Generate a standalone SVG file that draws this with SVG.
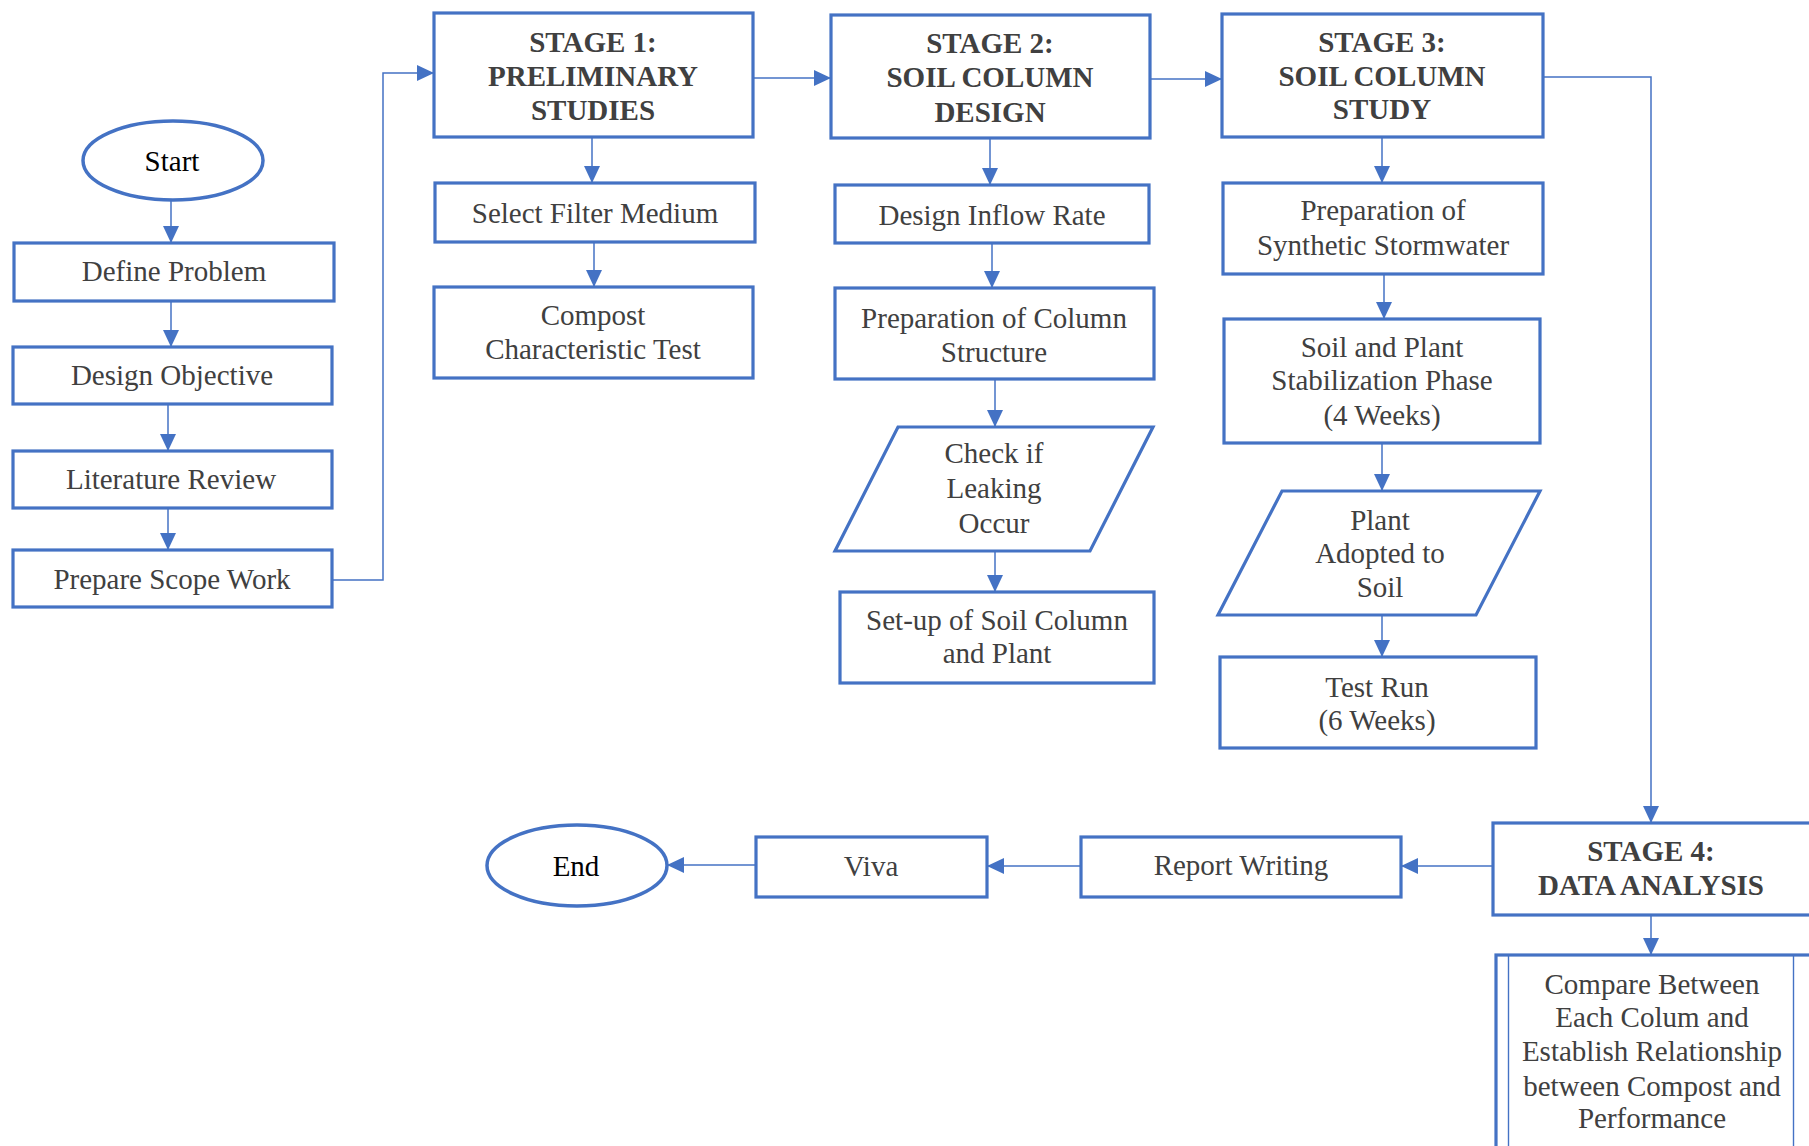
<svg xmlns="http://www.w3.org/2000/svg" width="1809" height="1146" viewBox="0 0 1809 1146">
<defs>
<marker id="arr" markerUnits="userSpaceOnUse" viewBox="0 0 18 18" markerWidth="18" markerHeight="18" refX="17" refY="9" orient="auto" overflow="visible">
<path d="M0,1 L17,9 L0,17 Z" fill="#4472C4"/>
</marker>
<style>
.box{fill:#fff;stroke:#4472C4;stroke-width:3.2}
.term{fill:#fff;stroke:#4472C4;stroke-width:3.5}
.thin{fill:none;stroke:#4472C4;stroke-width:1.4}
.con{fill:none;stroke:#4472C4;stroke-width:1.5}
.arr{marker-end:url(#arr)}
text{font-family:"Liberation Serif","Times New Roman",serif;font-size:29px;fill:#404040;text-anchor:middle}
.b{font-weight:bold}
.k{fill:#000}
</style>
</defs>
<rect width="1809" height="1146" fill="#fff"/>

<g id="connectors">
<line class="con arr" x1="171" y1="200" x2="171" y2="243"/>
<line class="con arr" x1="171" y1="301" x2="171" y2="347"/>
<line class="con arr" x1="168" y1="404" x2="168" y2="451"/>
<line class="con arr" x1="168" y1="508" x2="168" y2="550"/>
<polyline class="con arr" points="332,580 383,580 383,73 434,73"/>
<line class="con arr" x1="592" y1="137" x2="592" y2="183"/>
<line class="con arr" x1="594" y1="242" x2="594" y2="287"/>
<line class="con arr" x1="753" y1="78" x2="831" y2="78"/>
<line class="con arr" x1="990" y1="138" x2="990" y2="185"/>
<line class="con arr" x1="992" y1="243" x2="992" y2="288"/>
<line class="con arr" x1="995" y1="379" x2="995" y2="427"/>
<line class="con arr" x1="995" y1="551" x2="995" y2="592"/>
<line class="con arr" x1="1150" y1="79" x2="1222" y2="79"/>
<line class="con arr" x1="1382" y1="137" x2="1382" y2="183"/>
<line class="con arr" x1="1384" y1="274" x2="1384" y2="319"/>
<line class="con arr" x1="1382" y1="443" x2="1382" y2="491"/>
<line class="con arr" x1="1382" y1="615" x2="1382" y2="657"/>
<polyline class="con arr" points="1543,77 1651,77 1651,823"/>
<line class="con arr" x1="1651" y1="915" x2="1651" y2="955"/>
<line class="con arr" x1="1493" y1="866" x2="1401" y2="866"/>
<line class="con arr" x1="1081" y1="866" x2="987" y2="866"/>
<line class="con arr" x1="756" y1="865" x2="667" y2="865"/>
</g>

<g id="start">
<ellipse class="term" cx="173" cy="160.5" rx="90" ry="39.5"/>
<text class="k" x="172" y="171">Start</text>
</g>
<g id="define-problem">
<rect class="box" x="14" y="243" width="320" height="58"/>
<text x="174" y="281">Define Problem</text>
</g>
<g id="design-objective">
<rect class="box" x="13" y="347" width="319" height="57"/>
<text x="172" y="385">Design Objective</text>
</g>
<g id="literature-review">
<rect class="box" x="13" y="451" width="319" height="57"/>
<text x="171" y="489">Literature Review</text>
</g>
<g id="prepare-scope-work">
<rect class="box" x="13" y="550" width="319" height="57"/>
<text x="172" y="589">Prepare Scope Work</text>
</g>

<g id="stage1">
<rect class="box" x="434" y="13" width="319" height="124"/>
<text class="b" x="593" y="52">STAGE 1:</text>
<text class="b" x="593" y="86">PRELIMINARY</text>
<text class="b" x="593" y="120">STUDIES</text>
</g>
<g id="select-filter-medium">
<rect class="box" x="435" y="183" width="320" height="59"/>
<text x="595" y="223">Select Filter Medium</text>
</g>
<g id="compost-test">
<rect class="box" x="434" y="287" width="319" height="91"/>
<text x="593" y="325">Compost</text>
<text x="593" y="359">Characteristic Test</text>
</g>

<g id="stage2">
<rect class="box" x="831" y="15" width="319" height="123"/>
<text class="b" x="990" y="53">STAGE 2:</text>
<text class="b" x="990" y="87">SOIL COLUMN</text>
<text class="b" x="990" y="122">DESIGN</text>
</g>
<g id="design-inflow-rate">
<rect class="box" x="835" y="185" width="314" height="58"/>
<text x="992" y="225">Design Inflow Rate</text>
</g>
<g id="prep-column-structure">
<rect class="box" x="835" y="288" width="319" height="91"/>
<text x="994" y="328">Preparation of Column</text>
<text x="994" y="362">Structure</text>
</g>
<g id="check-leaking">
<polygon class="box" points="898,427 1153,427 1090,551 835,551"/>
<text x="994" y="463">Check if</text>
<text x="994" y="498">Leaking</text>
<text x="994" y="533">Occur</text>
</g>
<g id="setup-soil-column">
<rect class="box" x="840" y="592" width="314" height="91"/>
<text x="997" y="630">Set-up of Soil Column</text>
<text x="997" y="663">and Plant</text>
</g>

<g id="stage3">
<rect class="box" x="1222" y="14" width="321" height="123"/>
<text class="b" x="1382" y="52">STAGE 3:</text>
<text class="b" x="1382" y="86">SOIL COLUMN</text>
<text class="b" x="1382" y="119">STUDY</text>
</g>
<g id="prep-synthetic-stormwater">
<rect class="box" x="1223" y="183" width="320" height="91"/>
<text x="1383" y="220">Preparation of</text>
<text x="1383" y="255">Synthetic Stormwater</text>
</g>
<g id="soil-plant-stabilization">
<rect class="box" x="1224" y="319" width="316" height="124"/>
<text x="1382" y="357">Soil and Plant</text>
<text x="1382" y="390">Stabilization Phase</text>
<text x="1382" y="425">(4 Weeks)</text>
</g>
<g id="plant-adopted">
<polygon class="box" points="1282,491 1540,491 1476,615 1218,615"/>
<text x="1380" y="530">Plant</text>
<text x="1380" y="563">Adopted to</text>
<text x="1380" y="597">Soil</text>
</g>
<g id="test-run">
<rect class="box" x="1220" y="657" width="316" height="91"/>
<text x="1377" y="697">Test Run</text>
<text x="1377" y="730">(6 Weeks)</text>
</g>

<g id="stage4">
<rect class="box" x="1493" y="823" width="400" height="92"/>
<text class="b" x="1651" y="861">STAGE 4:</text>
<text class="b" x="1651" y="895">DATA ANALYSIS</text>
</g>
<g id="compare">
<rect class="box" x="1496" y="955" width="400" height="300"/>
<line class="thin" x1="1508.5" y1="955" x2="1508.5" y2="1146"/>
<line class="thin" x1="1793.5" y1="955" x2="1793.5" y2="1146"/>
<text x="1652" y="994">Compare Between</text>
<text x="1652" y="1027">Each Colum and</text>
<text x="1652" y="1061">Establish Relationship</text>
<text x="1652" y="1096">between Compost and</text>
<text x="1652" y="1128">Performance</text>
</g>

<g id="report-writing">
<rect class="box" x="1081" y="837" width="320" height="60"/>
<text x="1241" y="875">Report Writing</text>
</g>
<g id="viva">
<rect class="box" x="756" y="837" width="231" height="60"/>
<text x="871" y="876">Viva</text>
</g>
<g id="end">
<ellipse class="term" cx="577" cy="865.5" rx="90" ry="40.5"/>
<text class="k" x="576" y="876">End</text>
</g>
</svg>
